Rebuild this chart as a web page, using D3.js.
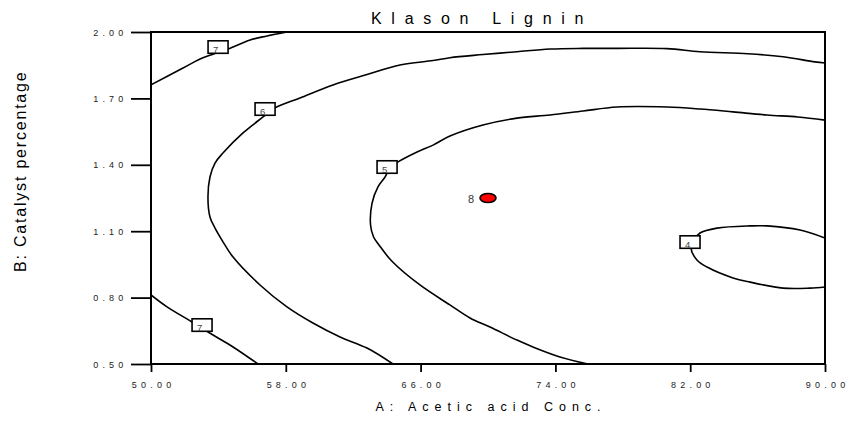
<!DOCTYPE html>
<html><head><meta charset="utf-8">
<script src="https://cdn.jsdelivr.net/npm/d3@7"></script>
<style>
body{margin:0;background:#fff}
text{font-family:Arial,"Liberation Sans",Helvetica,sans-serif}
</style>
</head><body>
<svg id="chart" width="849" height="439"></svg>
<script>
// ---- data (A: acetic acid conc., B: catalyst percentage) ----
const titleText = "Klason Lignin";
const xLabelText = "A: Acetic acid Conc.";
const yLabelText = "B: Catalyst percentage";
const aDomain = [50, 90];
const bDomain = [0.5, 2.0];
const aTicks = [50, 58, 66, 74, 82, 90];
const bTicks = [0.5, 0.8, 1.1, 1.4, 1.7, 2.0];

// contour lines of Klason lignin as [A, B]
const contour7Top = [[50.00,1.761],[51.90,1.837],[52.91,1.878],[53.68,1.900],[54.57,1.923],[55.88,1.964],[56.88,1.982],[58.07,2.000]];
const contour6 = [[90.00,1.860],[89.40,1.865],[87.51,1.888],[85.42,1.902],[82.58,1.911],[80.62,1.925],[77.66,1.926],[75.64,1.926],[73.68,1.923],[71.72,1.911],[69.70,1.898],[67.74,1.884],[66.74,1.871],[64.78,1.851],[62.82,1.808],[60.80,1.761],[58.84,1.702],[57.36,1.657],[56.65,1.616],[55.46,1.544],[54.27,1.453],[53.80,1.408],[53.50,1.345],[53.38,1.255],[53.50,1.164],[53.80,1.114],[54.21,1.060],[54.87,0.983],[56.47,0.857],[58.07,0.758],[59.61,0.685],[61.22,0.622],[62.82,0.572],[64.36,0.500]];
const contour5 = [[90.00,1.602],[88.39,1.616],[86.56,1.625],[84.54,1.639],[82.58,1.652],[80.62,1.661],[77.66,1.661],[75.64,1.643],[73.68,1.625],[71.72,1.611],[69.70,1.580],[67.74,1.530],[66.74,1.489],[65.79,1.458],[64.66,1.413],[64.18,1.386],[63.89,1.345],[63.47,1.300],[63.12,1.227],[63.03,1.128],[63.21,1.074],[63.53,1.038],[64.30,0.964],[65.96,0.857],[67.74,0.767],[68.93,0.708],[70.12,0.667],[71.72,0.608],[72.67,0.577],[74.27,0.532],[75.93,0.500]];
const contour4 = [[90.00,1.069],[88.52,1.105],[86.56,1.124],[85.55,1.124],[83.59,1.114],[82.58,1.092],[82.23,1.060],[82.05,1.024],[82.40,0.970],[83.00,0.938],[84.54,0.889],[85.55,0.870],[87.51,0.843],[89.11,0.843],[90.00,0.848]];
const contour7Bottom = [[50.00,0.812],[50.95,0.758],[52.43,0.690],[53.68,0.631],[54.87,0.577],[56.35,0.500]];
const contourLines = [contour7Top, contour6, contour5, contour4, contour7Bottom];

// contour label boxes: level and [A, B] position
const labelLevels = ["7", "6", "5", "4", "7"];
const labelA = [53.98, 56.77, 64.01, 81.99, 53.03];
const labelB = [1.932, 1.652, 1.390, 1.051, 0.676];

// design centre point
const centerA = [70.0];
const centerB = [1.25];
const centerCount = ["8"];

// ---- drawing ----
const svg = d3.select("#chart");
const pLeft = 151, pRight = 825, pTop = 32, pBottom = 364;
const x = d3.scaleLinear().domain(aDomain).range([pLeft, pRight]);
const y = d3.scaleLinear().domain(bDomain).range([pBottom, pTop]);

svg.append("defs").append("clipPath").attr("id", "plotclip")
  .append("rect").attr("x", pLeft).attr("y", pTop).attr("width", pRight - pLeft).attr("height", pBottom - pTop);

const line = d3.line().x(d => x(d[0])).y(d => y(d[1])).curve(d3.curveCatmullRom.alpha(0.5));

const plot = svg.append("g").attr("clip-path", "url(#plotclip)");
plot.selectAll("path.contour").data(contourLines).join("path")
  .attr("class", "contour")
  .attr("d", line)
  .attr("fill", "none")
  .attr("stroke", "#000")
  .attr("stroke-width", 1.6);

// label boxes
const bw = 20, bh = 12.5;
const lab = svg.append("g");
labelLevels.forEach((lv, i) => {
  const cx = x(labelA[i]), cy = y(labelB[i]);
  lab.append("rect").attr("x", cx - bw / 2).attr("y", cy - bh / 2)
    .attr("width", bw).attr("height", bh)
    .attr("fill", "#fff").attr("stroke", "#000").attr("stroke-width", 1.6);
  lab.append("text").attr("x", cx - bw / 2 + 5).attr("y", cy + bh / 2 - 0.5)
    .attr("font-size", "9.5px").attr("fill", "#444").text(lv);
});

// centre point
centerA.forEach((a, i) => {
  svg.append("ellipse").attr("cx", x(a)).attr("cy", y(centerB[i]))
    .attr("rx", 8).attr("ry", 4.5)
    .attr("fill", "#ff0000").attr("stroke", "#000").attr("stroke-width", 1.6);
  svg.append("text").attr("x", x(a) - 14).attr("y", y(centerB[i]) + 4.5)
    .attr("text-anchor", "end").attr("font-size", "11px").attr("fill", "#333")
    .text(centerCount[i]);
});

// frame
svg.append("rect").attr("x", pLeft).attr("y", pTop).attr("width", pRight - pLeft).attr("height", pBottom - pTop)
  .attr("fill", "none").attr("stroke", "#000").attr("stroke-width", 2);

// axes
const fmt = d3.format(".2f");
const xAxis = svg.append("g").attr("transform", `translate(0,${pBottom})`)
  .call(d3.axisBottom(x).tickValues(aTicks).tickSize(8).tickPadding(10).tickFormat(fmt));
const yAxis = svg.append("g").attr("transform", `translate(${pLeft},0)`)
  .call(d3.axisLeft(y).tickValues(bTicks).tickSize(20).tickPadding(3.5).tickFormat(fmt));
[xAxis, yAxis].forEach(g => {
  g.select(".domain").remove();
  g.selectAll(".tick line").attr("stroke", "#000").attr("stroke-width", 1.8);
  g.selectAll(".tick text").attr("font-size", "9px").attr("letter-spacing", "4.2px")
    .attr("fill", "#222").attr("font-family", "Arial, 'Liberation Sans', sans-serif");
});
xAxis.selectAll(".tick text").attr("dx", "2.1px");
yAxis.selectAll(".tick text").attr("dy", "0.35em");

// title and axis titles
svg.append("text").attr("x", 371).attr("y", 23.5)
  .attr("font-size", "16px").attr("letter-spacing", "9.7px").attr("fill", "#000")
  .text(titleText);
svg.append("text").attr("x", 488 + 3).attr("y", 411)
  .attr("text-anchor", "middle").attr("font-size", "12.5px").attr("letter-spacing", "6px").attr("fill", "#000")
  .text(xLabelText);
svg.append("text").attr("transform", "translate(26,272) rotate(-90)")
  .attr("font-size", "16px").attr("letter-spacing", "1.8px").attr("fill", "#000")
  .text(yLabelText);
</script>
</body></html>
